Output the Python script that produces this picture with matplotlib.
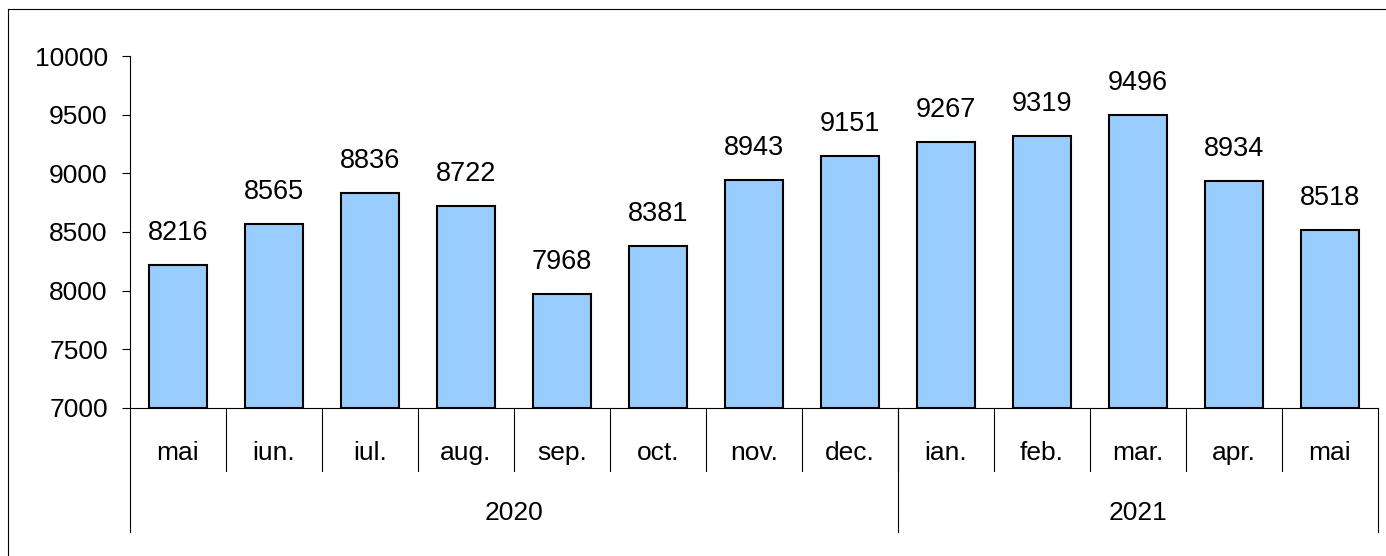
import matplotlib
matplotlib.use('Agg')
from matplotlib import pyplot as plt
from matplotlib.lines import Line2D

months = ['mai', 'iun.', 'iul.', 'aug.', 'sep.', 'oct.', 'nov.', 'dec.',
          'ian.', 'feb.', 'mar.', 'apr.', 'mai']
values = [8216, 8565, 8836, 8722, 7968, 8381, 8943, 9151,
          9267, 9319, 9496, 8934, 8518]
years = ['2020', '2021']
monthsPerYear = [8, 5]

plt.rcParams['font.family'] = ['Liberation Sans', 'DejaVu Sans']
plt.rcParams['font.size'] = 19

fig = plt.figure(figsize=(13.86, 5.56), dpi=100)
ax = fig.add_axes([130 / 1386, 148 / 556, 1248 / 1386, 352 / 556])

xPos = list(range(len(values)))
bars = ax.bar(xPos, [v - 7000 for v in values], bottom=7000, width=0.6,
              color='#99CCFF', edgecolor='black', linewidth=1.5, zorder=3)

for x, v in zip(xPos, values):
    ax.annotate(str(v), (x, v), xytext=(0, 18), textcoords='offset points',
                ha='center', va='baseline', fontsize=19.5)

ax.set_ylim(7000, 10000)
ax.set_yticks(range(7000, 10001, 500))
ax.set_xlim(-0.5, len(values) - 0.5)
ax.set_xticks([])
ax.tick_params(axis='y', direction='out', length=6, width=0.8, pad=10, labelsize=19)
ax.spines['top'].set_visible(False)
ax.spines['right'].set_visible(False)
ax.spines['left'].set_linewidth(0.8)
ax.spines['bottom'].set_linewidth(0.8)

trans = ax.get_xaxis_transform()
# month labels and separators
for x, m in zip(xPos, months):
    ax.text(x, -0.148, m, transform=trans, ha='center', va='baseline', fontsize=19)
for k in range(1, len(values)):
    ax.plot([k - 0.5, k - 0.5], [0, -0.179], transform=trans, color='black',
            linewidth=0.8, clip_on=False)

# year labels and separators
start = -0.5
ax.plot([start, start], [0, -0.352], transform=trans, color='black', linewidth=0.8, clip_on=False)
for y, n in zip(years, monthsPerYear):
    end = start + n
    ax.text((start + end) / 2, -0.318, y, transform=trans, ha='center', va='baseline', fontsize=19)
    ax.plot([end, end], [0, -0.352], transform=trans, color='black', linewidth=0.8, clip_on=False)
    start = end

# outer frame
bx = 8 / 1386
by = 1 - 9 / 556
fig.add_artist(Line2D([bx, bx], [0, by], transform=fig.transFigure, color='black', linewidth=0.8))
fig.add_artist(Line2D([bx, 1], [by, by], transform=fig.transFigure, color='black', linewidth=0.8))

plt.savefig('out.png', dpi=100)
